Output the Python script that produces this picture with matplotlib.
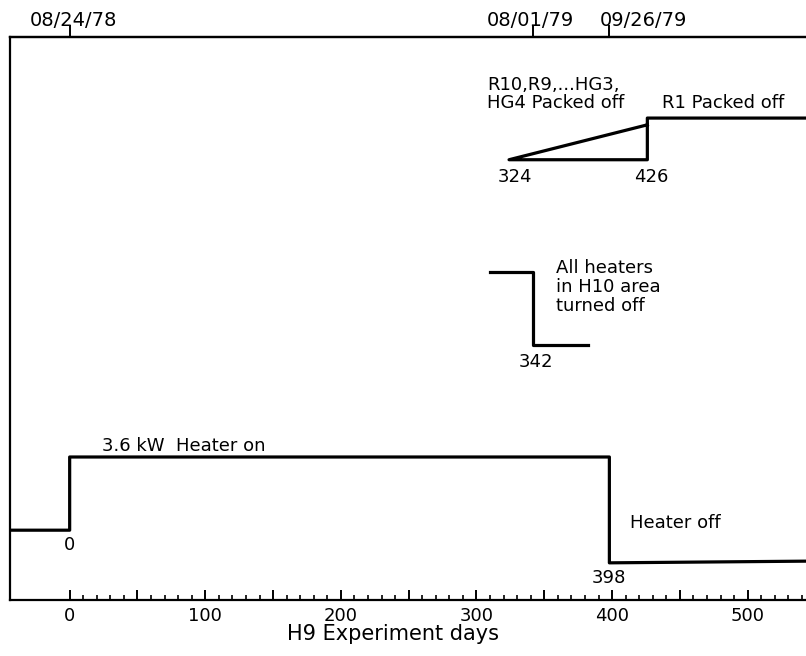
import numpy as np
import matplotlib.pyplot as plt

# heater power trace (arbitrary vertical level)
heater_days = [-44, 0, 0, 398, 398, 543]
heater_level = [12.4, 12.4, 25.4, 25.4, 6.6, 6.9]

# heaters in H10 area
h10_days = [310, 342, 342, 382]
h10_level = [58.3, 58.3, 45.3, 45.3]

# packing of boreholes
pack_days = [426, 324, 426, 426, 543]
pack_level = [84.4, 78.2, 78.2, 85.6, 85.6]

top_days = [0, 342, 398]
top_labels = ['08/24/78', '08/01/79', '09/26/79']
top_label_pos = [3, 340, 423]

fig = plt.figure(figsize=(8.06, 6.56), dpi=100)
ax = fig.add_axes([10/806, 56/656, 796/806, 563/656])

lw = 2.3
ax.plot(heater_days, heater_level, color='black', lw=lw)
ax.plot(h10_days, h10_level, color='black', lw=lw)
ax.plot(pack_days, pack_level, color='black', lw=lw)

ax.set_xlim(-44, 543)
ax.set_ylim(0, 100)

fs = 13
ax.text(24, 27.4, '3.6 kW  Heater on', fontsize=fs, va='center')
ax.text(0, 9.8, '0', fontsize=fs, ha='center', va='center')
ax.text(413, 13.7, 'Heater off', fontsize=fs, va='center')
ax.text(398, 3.9, '398', fontsize=fs, ha='center', va='center')
ax.text(359, 55.6, 'All heaters\nin H10 area\nturned off', fontsize=fs,
        va='center', linespacing=1.1)
ax.text(344, 42.3, '342', fontsize=fs, ha='center', va='center')
ax.text(308, 89.9, 'R10,R9,...HG3,\nHG4 Packed off', fontsize=fs,
        va='center', linespacing=1.0)
ax.text(437, 88.3, 'R1 Packed off', fontsize=fs, va='center')
ax.text(328, 75.1, '324', fontsize=fs, ha='center', va='center')
ax.text(429, 75.1, '426', fontsize=fs, ha='center', va='center')

for side in ['left', 'bottom', 'top']:
    ax.spines[side].set_linewidth(1.6)
ax.spines['right'].set_visible(False)

ax.set_yticks([])
ax.set_xticks(np.arange(0, 501, 50))
ax.set_xticks(np.arange(0, 541, 10), minor=True)
ax.set_xticklabels(['0', '', '100', '', '200', '', '300', '', '400', '', '500'])
ax.tick_params(axis='x', which='major', direction='in', length=7, width=1.4,
               labelsize=fs, pad=5)
ax.tick_params(axis='x', which='minor', direction='in', length=3.5, width=1.2)
ax.set_xlabel('H9 Experiment days', fontsize=15)
ax.xaxis.set_label_coords(0.481, -0.042)

# calendar dates along the top edge
top = ax.secondary_xaxis('top')
top.set_xticks(top_days)
top.set_xticklabels([])
top.tick_params(direction='out', length=9, width=1.4)
top.spines['top'].set_linewidth(1.6)
for d, lab in zip(top_label_pos, top_labels):
    ax.text(d, 1.0 + 17/563, lab, fontsize=14, ha='center', va='center',
            transform=ax.get_xaxis_transform())

fig.savefig('out.png', dpi=100)
